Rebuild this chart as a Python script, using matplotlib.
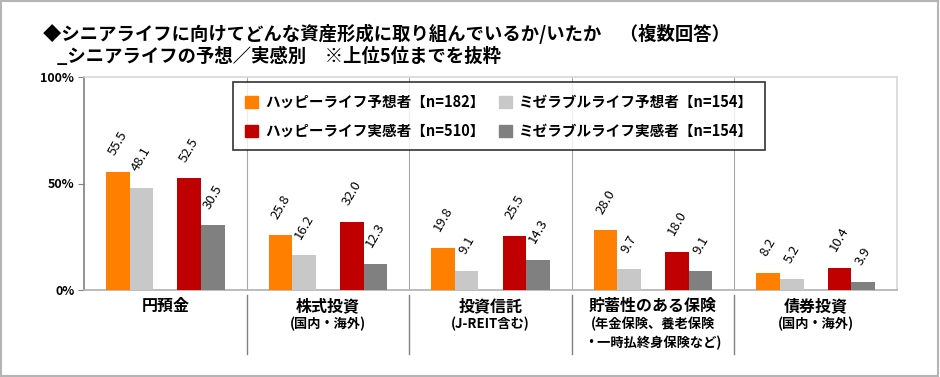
import matplotlib
matplotlib.use("Agg")
import matplotlib.pyplot as plt
from matplotlib.patches import Patch, Rectangle
from matplotlib.lines import Line2D
import numpy as np

plt.rcParams['font.family'] = ['Noto Sans CJK JP', 'DejaVu Sans']

categories = ["円預金", "株式投資", "投資信託", "貯蓄性のある保険", "債券投資"]
sub_labels = ["", "(国内・海外)", "(J-REIT含む)", "(年金保険、養老保険\n・一時払終身保険など)", "(国内・海外)"]
series_names = ["ハッピーライフ予想者【n=182】", "ミゼラブルライフ予想者【n=154】",
                "ハッピーライフ実感者【n=510】", "ミゼラブルライフ実感者【n=154】"]
happy_expect = [55.5, 25.8, 19.8, 28.0, 8.2]
misery_expect = [48.1, 16.2, 9.1, 9.7, 5.2]
happy_actual = [52.5, 32.0, 25.5, 18.0, 10.4]
misery_actual = [30.5, 12.3, 14.3, 9.1, 3.9]
yticks = [0, 50, 100]
ytick_labels = ["0%", "50%", "100%"]
title1 = "◆シニアライフに向けてどんな資産形成に取り組んでいるか/いたか　（複数回答）"
title2 = "_シニアライフの予想／実感別　※上位5位までを抜粋"

colors = ["#FF8000", "#C8C8C8", "#C00000", "#808080"]
series = [happy_expect, misery_expect, happy_actual, misery_actual]
offsets = [-0.292, -0.147, 0.147, 0.292]
bw = 0.145

W, H = 940, 377
fig = plt.figure(figsize=(W / 100, H / 100), dpi=100)
fig.patches.append(Rectangle((0.001, 0.002), 0.997, 0.995, transform=fig.transFigure,
                             fill=False, edgecolor="#b4b4b4", lw=1.5))

ax_l, ax_r, ax_t, ax_b = 84, 897, 77, 290
ax = fig.add_axes([ax_l / W, 1 - ax_b / H, (ax_r - ax_l) / W, (ax_b - ax_t) / H])
x = np.arange(len(categories))
for vals, col, off in zip(series, colors, offsets):
    ax.bar(x + off, vals, width=bw, color=col, zorder=3)
    for xi, v in zip(x + off, vals):
        ax.annotate(f"{v:.1f}", (xi, v), xytext=(0, 10), textcoords="offset points",
                    rotation=60, ha="center", va="bottom", fontsize=9.5, zorder=4)

ax.set_xlim(-0.5, len(categories) - 0.5)
ax.set_ylim(0, 100)
ax.set_yticks(yticks)
ax.set_yticklabels(ytick_labels, fontsize=9, fontweight="bold")
ax.set_xticks([])
ax.tick_params(axis="y", length=4, width=0.8, color="#808080", pad=3)
for b in np.arange(0.5, len(categories) - 0.5, 1.0):
    ax.axvline(b, color="#a8a8a8", lw=0.8, zorder=1)
ax.spines["left"].set_color("#808080")
ax.spines["bottom"].set_color("#b0b0b0")
ax.spines["top"].set_color("#d8d8d8")
ax.spines["right"].set_color("#d8d8d8")
for s in ax.spines.values():
    s.set_linewidth(1.2)

# dividers below axis
for b in np.arange(0.5, len(categories) - 0.5, 1.0):
    xf = ax.transData.transform((b, 0))[0]
    fig.add_artist(Line2D([xf / W, xf / W], [1 - 295 / H, 1 - 354 / H],
                          transform=fig.transFigure, color="#808080", lw=1.0))

# category labels
for i, (c, s) in enumerate(zip(categories, sub_labels)):
    xf = ax.transData.transform((i, 0))[0] / W
    fig.text(xf, 1 - 306 / H, c, ha="center", va="center", fontsize=11.5, fontweight="bold")
    if s:
        fig.text(xf, 1 - 317 / H, s, ha="center", va="top", fontsize=9.5, fontweight="bold",
                 linespacing=1.4)

fig.text(43 / W, 1 - 34 / H, title1, ha="left", va="center", fontsize=13.2, fontweight="bold")
fig.text(57 / W, 1 - 56 / H, title2, ha="left", va="center", fontsize=13.2, fontweight="bold")

order = [0, 2, 1, 3]
handles = [Patch(facecolor=colors[k], edgecolor=colors[k]) for k in order]
labels = [series_names[k] for k in order]
leg = fig.legend(handles, labels, ncol=2, loc="upper left",
                 bbox_to_anchor=(233 / W, 1 - 82 / H), frameon=True, fancybox=False,
                 edgecolor="black", prop={"size": 10.5, "weight": "bold"},
                 handlelength=0.9, handleheight=0.9, handletextpad=0.5,
                 columnspacing=1.0, labelspacing=0.9, borderpad=0.8, borderaxespad=0)
leg.get_frame().set_linewidth(1.2)

fig.savefig("out.png", dpi=100)
